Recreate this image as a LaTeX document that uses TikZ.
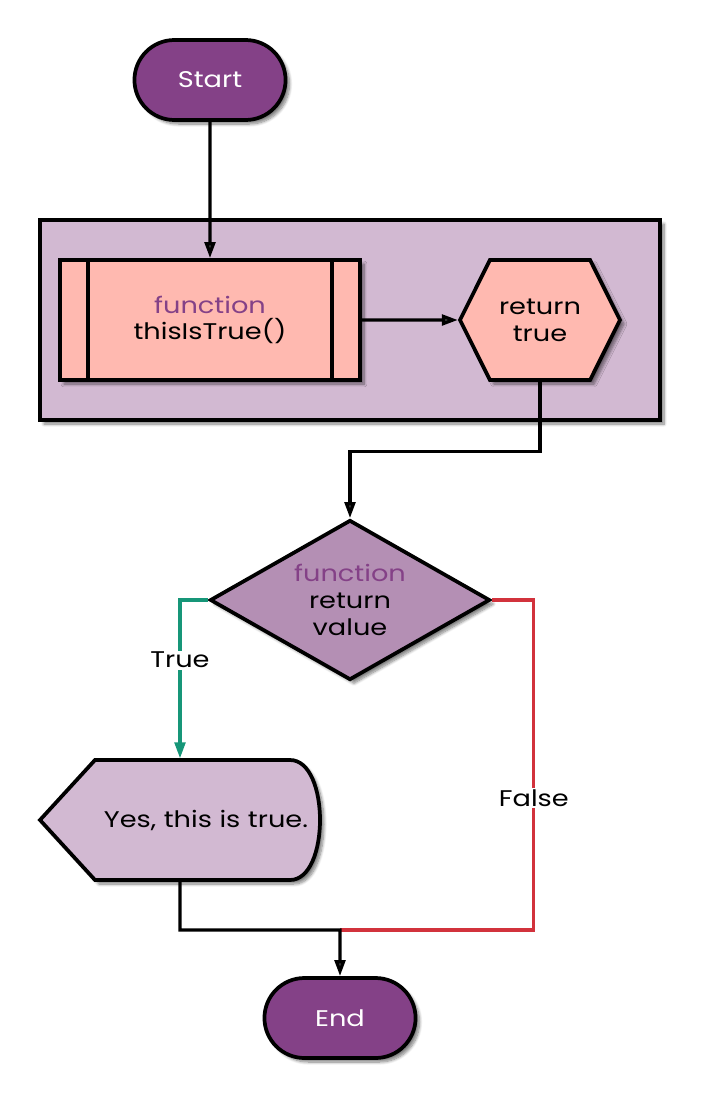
\documentclass[tikz,border=0pt]{standalone}
\usepackage{fontspec}
\setmainfont[FakeStretch=1.2]{Poppins}
\usetikzlibrary{%
  arrows,%
  arrows.meta,%
  shapes.misc,% wg. rounded rectangle
  shapes.symbols,% wg. signal
  shapes.geometric,% wg. diamond
  shadows.blur,%
  positioning%
}
\definecolor{plum}{RGB}{132,65,135}
\definecolor{lilac}{RGB}{210,185,210}
\definecolor{mauve}{RGB}{180,143,180}
\definecolor{salmon}{RGB}{255,185,176}
\definecolor{truegreen}{RGB}{22,150,120}
\definecolor{falsered}{RGB}{210,50,60}

\begin{document}
\begin{tikzpicture}[
  x=0.75pt, y=-0.75pt,
  font=\fontsize{17}{20}\selectfont,
  >={Triangle[length=12pt,width=8pt]},
  line width=2.4pt,
  softshadow/.style={blur shadow={shadow xshift=3pt, shadow yshift=-3pt, shadow blur steps=8, shadow opacity=50}},
  terminal/.style={rounded rectangle, draw=black, fill=plum, text=white, minimum width=120pt, minimum height=60pt, line width=2.8pt, softshadow},
  group/.style={rectangle, draw=black, fill=lilac, minimum width=465pt, minimum height=150pt, line width=2.8pt, softshadow},
  process/.style={rectangle, draw=black, fill=salmon, minimum width=225pt, minimum height=90pt, align=center, line width=2.8pt, softshadow},
  prep/.style={signal, signal to=west and east, signal pointer angle=127, draw=black, fill=salmon, minimum width=120pt, minimum height=90pt, align=center, line width=2.8pt, softshadow},
  decision/.style={diamond, aspect=1.75, draw=black, fill=mauve, minimum width=210pt, minimum height=120pt, inner sep=0pt, align=center, line width=2.8pt, softshadow},
  display/.style={draw=black, fill=lilac, line width=2.8pt, softshadow},
  yes/.style={draw=truegreen},
  no/.style={draw=falsered},
  branch/.style={fill=white, inner sep=1pt, text=black}]

\useasboundingbox (0,0) rectangle (700,1099);

\node[terminal] (start) at (210,80) {Start};

\node[group] (frame) at (350,320) {};
\node[process] (func) at (210,320) {\textcolor{plum}{function}\\thisIsTrue()};
\foreach \s/\a in {22.5pt/west, -22.5pt/east} {
  \draw[line width=2.8pt] ([xshift=\s]func.north \a) -- ([xshift=\s]func.south \a);
}
\node[prep] (ret) at (540,320) {return\\true};

\node[decision] (test) at (350,600) {\textcolor{plum}{function}\\return\\value};

\draw[display] (40,820) -- (95,760) -- (290,760) .. controls (330,760) and (330,880) .. (290,880) -- (95,880) -- cycle;
\node[minimum width=210pt, minimum height=90pt, text width=192pt, inner xsep=0pt, align=right] (msg) at (180,820) {Yes, this is true.};

\node[terminal] (finish) at (340,1018) {End};
\coordinate (join) at (340,930);

\draw [->] (start) -- (func);
\draw [->] (func) -- (ret);
\draw [->] (ret.south) -- ++(0,70) -| (test.north);
\draw [->, yes] (test.west) -| node[pos=0.69, branch] {True} (msg.north);
\draw [no] (test.east) -- ++(42,0) |- node[pos=0.3, branch] {False} (join);
\draw [->] (msg.south) |- (join) -- (finish);

\end{tikzpicture}
\end{document}
